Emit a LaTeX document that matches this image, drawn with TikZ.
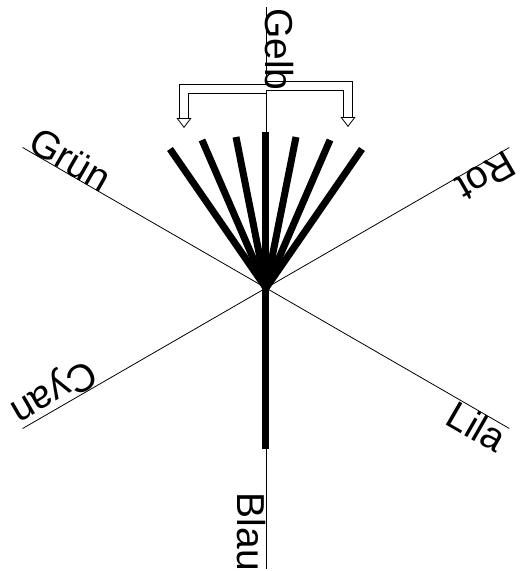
\documentclass[tikz,border=0pt]{standalone}
\usepackage{fontspec}
\setmainfont{Liberation Sans}
\usetikzlibrary{arrows.meta}

\begin{document}
\begin{tikzpicture}[
    x=1pt, y=1pt,
    ray/.style={line width=0.8pt},
    stem/.style={line width=7pt},
    colour/.style={inner sep=0pt, font=\fontsize{39}{39}\selectfont},
    hollow/.style={double, double distance=7.5pt, line width=0.8pt, -{Triangle[open, width=15pt, length=10pt]}}
]
    \useasboundingbox (-266,-283) rectangle (259,288);
    \coordinate (centre) at (0,0);

    \foreach \a/\n in {90/up, 30/rot_end, 150/gruen_end, 210/cyan_end, 330/lila_end, 270/down} {
        \coordinate (\n) at (\a:281);
        \draw [ray] (centre) -- (\n);
    }

    \coordinate (split_l) at (0,199);
    \coordinate (split_r) at (0,202);
    \coordinate (arrow_l) at (-82,160);
    \coordinate (arrow_r) at (82,161);
    \draw [hollow] (split_l) -| (arrow_l);
    \draw [hollow] (split_r) -| (arrow_r);

    \node [colour, rotate=-90, anchor=base west] (gelb) at (90:280) {Gelb};
    \node [colour, rotate=-30, anchor=base west] (gruen) at (150:277) {Grün};
    \node [colour, rotate=210, anchor=base west] (rot) at (30:277) {Rot};
    \node [colour, rotate=210, anchor=north east] (cyan) at (210:282) {Cyan};
    \node [colour, rotate=-30, anchor=north east] (lila) at (-30:282) {Lila};
    \node [colour, rotate=-90, anchor=north east] (blau) at (-90:283) {Blau};

    \foreach \x/\y [count=\i] in {-96/139, -64/148, -30/151, 0/156, 30/151, 64/148, 96/139} {
        \coordinate (tip\i) at (\x,\y);
        \draw [stem] (centre) -- (tip\i);
    }
    \coordinate (foot) at (0,-161);
    \draw [stem] (centre) -- (foot);
\end{tikzpicture}
\end{document}
